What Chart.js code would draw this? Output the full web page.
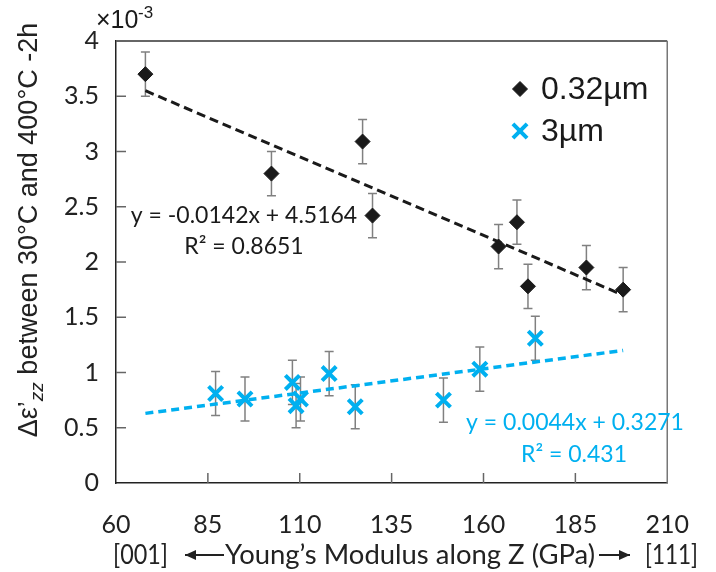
<!DOCTYPE html>
<html>
<head>
<meta charset="utf-8">
<script src="https://cdn.jsdelivr.net/npm/chart.js@4.4.0/dist/chart.umd.min.js"></script>
<style>
  html, body { margin: 0; padding: 0; background: #fff; }
</style>
</head>
<body>
<canvas id="chart" width="716" height="572"></canvas>
<script>
// 0.32um film
const fineX = [68.0, 102.3, 127.1, 129.8, 164.1, 169.1, 172.1, 188.0, 198.0];
const fineY = [3.70, 2.80, 3.09, 2.42, 2.14, 2.36, 1.78, 1.95, 1.75];
const fineErr = [0.2, 0.2, 0.2, 0.2, 0.2, 0.2, 0.2, 0.2, 0.2];
// 3um film
const thickX = [87.1, 95.1, 108.0, 109.0, 110.2, 118.0, 125.1, 149.1, 159.0, 174.1];
const thickY = [0.81, 0.76, 0.91, 0.70, 0.76, 0.99, 0.69, 0.75, 1.03, 1.31];
const thickErr = [0.2, 0.2, 0.2, 0.2, 0.2, 0.2, 0.2, 0.2, 0.2, 0.2];
// trendline end points
const fineTrendX = [68, 198];
const fineTrendY = [3.55, 1.70];
const thickTrendX = [68, 198];
const thickTrendY = [0.63, 1.20];

const xTicks = [60, 85, 110, 135, 160, 185, 210];
const yTicks = [0, 0.5, 1, 1.5, 2, 2.5, 3, 3.5, 4];

const BLACK = "#1a1a1a";
const BLUE = "#00b0f0";
const ERR = "#808080";

const toPts = (xs, ys) => xs.map((x, i) => ({ x, y: ys[i] }));

// draw text squeezed/stretched to span x0..x1
function fitText(ctx, text, x0, x1, y) {
  const w = ctx.measureText(text).width;
  ctx.save();
  ctx.translate(x0, y);
  ctx.scale((x1 - x0) / w, 1);
  ctx.textAlign = "left";
  ctx.fillText(text, 0, 0);
  ctx.restore();
}

// error bars, frame, inner ticks, legend and text labels
const decorPlugin = {
  id: "decor",
  beforeDatasetsDraw(chart) {
    const ctx = chart.ctx;
    const xs = chart.scales.x;
    const ys = chart.scales.y;
    ctx.save();
    ctx.strokeStyle = ERR;
    ctx.lineWidth = 1.5;
    [[fineX, fineY, fineErr], [thickX, thickY, thickErr]].forEach(([X, Y, E]) => {
      X.forEach((xv, i) => {
        const px = xs.getPixelForValue(xv);
        const top = ys.getPixelForValue(Y[i] + E[i]);
        const bot = ys.getPixelForValue(Y[i] - E[i]);
        ctx.beginPath();
        ctx.moveTo(px, top); ctx.lineTo(px, bot);
        ctx.moveTo(px - 4.5, top); ctx.lineTo(px + 4.5, top);
        ctx.moveTo(px - 4.5, bot); ctx.lineTo(px + 4.5, bot);
        ctx.stroke();
      });
    });
    ctx.restore();
  },
  afterDraw(chart) {
    const ctx = chart.ctx;
    const a = chart.chartArea;
    const xs = chart.scales.x;
    const ys = chart.scales.y;
    ctx.save();

    // top and right frame
    ctx.lineWidth = 1.5;
    ctx.strokeStyle = "#333";
    ctx.beginPath(); ctx.moveTo(a.left, a.top); ctx.lineTo(a.right, a.top); ctx.stroke();
    ctx.strokeStyle = "#777";
    ctx.beginPath(); ctx.moveTo(a.right, a.top); ctx.lineTo(a.right, a.bottom); ctx.stroke();

    // inward tick marks
    ctx.strokeStyle = "#666";
    ctx.lineWidth = 1.5;
    xs.ticks.forEach(t => {
      const px = xs.getPixelForValue(t.value);
      if (px <= a.left + 1 || px >= a.right - 1) return;
      ctx.beginPath(); ctx.moveTo(px, a.bottom); ctx.lineTo(px, a.bottom - 10); ctx.stroke();
    });
    ys.ticks.forEach(t => {
      const py = ys.getPixelForValue(t.value);
      if (py >= a.bottom - 1) return;
      ctx.beginPath(); ctx.moveTo(a.left, py); ctx.lineTo(a.left + 10, py); ctx.stroke();
    });

    // legend
    const ds = chart.data.datasets;
    ctx.textBaseline = "middle";
    [[ds[0], 89], [ds[1], 131]].forEach(([d, y]) => {
      ctx.fillStyle = d.backgroundColor;
      ctx.strokeStyle = d.borderColor;
      ctx.lineWidth = d.borderWidth;
      Chart.helpers.drawPoint(ctx, {
        pointStyle: d.pointStyle, radius: d.pointRadius,
        borderWidth: d.borderWidth, rotation: 0
      }, 520, y);
      ctx.fillStyle = BLACK;
      ctx.textAlign = "left";
      ctx.font = "32px 'Liberation Sans', Arial, sans-serif";
      ctx.fillText(d.label, 541, y + 1);
    });

    // trendline equations
    ctx.textAlign = "center";
    ctx.font = "23px Lato, sans-serif";
    ctx.fillStyle = BLACK;
    ctx.fillText("y = -0.0142x + 4.5164", 244, 216);
    ctx.fillText("R\u00b2 = 0.8651", 244, 247);
    ctx.fillStyle = BLUE;
    ctx.fillText("y = 0.0044x + 0.3271", 575, 423);
    ctx.fillText("R\u00b2 = 0.431", 574, 455);

    // exponent note
    ctx.fillStyle = BLACK;
    ctx.textAlign = "left";
    ctx.font = "25px 'Liberation Sans', Arial, sans-serif";
    ctx.fillText("\u00d710", 96, 21);
    ctx.font = "17px 'Liberation Sans', Arial, sans-serif";
    ctx.fillText("-3", 138, 13);

    // x axis title with arrows
    const ty = 555;
    ctx.font = "27px Lato, sans-serif";
    ctx.fillStyle = "#222";
    fitText(ctx, "[001]", 113, 168, ty);
    fitText(ctx, "Young\u2019s Modulus along Z (GPa)", 225, 595, ty);
    fitText(ctx, "[111]", 645, 698, ty);
    ctx.strokeStyle = "#222";
    ctx.lineWidth = 2;
    const arrow = (x0, x1, dir) => {
      ctx.beginPath(); ctx.moveTo(x0, ty); ctx.lineTo(x1, ty); ctx.stroke();
      const tip = dir < 0 ? x0 : x1;
      ctx.beginPath();
      ctx.moveTo(tip, ty);
      ctx.lineTo(tip - dir * 11, ty - 5);
      ctx.lineTo(tip - dir * 11, ty + 5);
      ctx.closePath();
      ctx.fillStyle = "#222";
      ctx.fill();
    };
    arrow(185, 224, -1);
    arrow(599, 630, 1);

    // y axis title (rotated)
    ctx.translate(30, 230);
    ctx.rotate(-Math.PI / 2);
    ctx.fillStyle = "#222";
    const main = "27px 'Liberation Sans', Arial, sans-serif";
    const sub = "italic 19px 'Liberation Sans', Arial, sans-serif";
    const p1 = "\u0394\u03b5\u2019";
    const p2 = "zz";
    const p3 = " between 30\u00b0C and 400\u00b0C -2h";
    ctx.font = main; const w1 = ctx.measureText(p1).width; const w3 = ctx.measureText(p3).width;
    ctx.font = sub; const w2 = ctx.measureText(p2).width;
    let x = -(w1 + w2 + w3) / 2;
    ctx.textAlign = "left";
    ctx.font = main; ctx.fillText(p1, x, 0); x += w1;
    ctx.font = sub; ctx.fillText(p2, x, 8); x += w2;
    ctx.font = main; ctx.fillText(p3, x, 0);

    ctx.restore();
  }
};

new Chart(document.getElementById("chart"), {
  type: "scatter",
  data: {
    datasets: [
      {
        label: "0.32\u00b5m",
        data: toPts(fineX, fineY),
        pointStyle: "rectRot",
        pointRadius: 7.5,
        backgroundColor: BLACK,
        borderColor: BLACK,
        borderWidth: 1,
        order: 2
      },
      {
        label: "3\u00b5m",
        data: toPts(thickX, thickY),
        pointStyle: "crossRot",
        pointRadius: 10,
        backgroundColor: BLUE,
        borderColor: BLUE,
        borderWidth: 4,
        order: 2
      },
      {
        type: "line",
        label: "trend 0.32",
        data: toPts(fineTrendX, fineTrendY),
        borderColor: BLACK,
        borderWidth: 3,
        borderDash: [9, 5],
        pointRadius: 0,
        fill: false,
        order: 1
      },
      {
        type: "line",
        label: "trend 3",
        data: toPts(thickTrendX, thickTrendY),
        borderColor: BLUE,
        borderWidth: 3.5,
        borderDash: [8, 5],
        pointRadius: 0,
        fill: false,
        order: 1
      }
    ]
  },
  options: {
    responsive: false,
    animation: false,
    devicePixelRatio: 1,
    layout: { padding: { left: 0, top: 41, right: 24, bottom: 0 } },
    plugins: {
      legend: { display: false },
      tooltip: { enabled: false }
    },
    scales: {
      x: {
        type: "linear",
        min: 60,
        max: 210,
        afterBuildTicks: s => { s.ticks = xTicks.map(v => ({ value: v })); },
        afterFit: s => { s.height = 89; },
        grid: { display: false, drawTicks: false },
        border: { display: true, color: "#222", width: 1.5 },
        ticks: {
          padding: 27,
          color: "#222",
          font: { family: "Lato", size: 25 },
          maxRotation: 0,
          callback: v => String(v)
        }
      },
      y: {
        type: "linear",
        min: 0,
        max: 4,
        afterBuildTicks: s => { s.ticks = yTicks.map(v => ({ value: v })); },
        afterFit: s => { s.width = 116; },
        grid: { display: false, drawTicks: false },
        border: { display: true, color: "#222", width: 1.5 },
        ticks: {
          padding: 17,
          color: "#222",
          font: { family: "Lato", size: 25 },
          callback: v => String(v)
        }
      }
    }
  },
  plugins: [decorPlugin]
});
</script>
</body>
</html>
